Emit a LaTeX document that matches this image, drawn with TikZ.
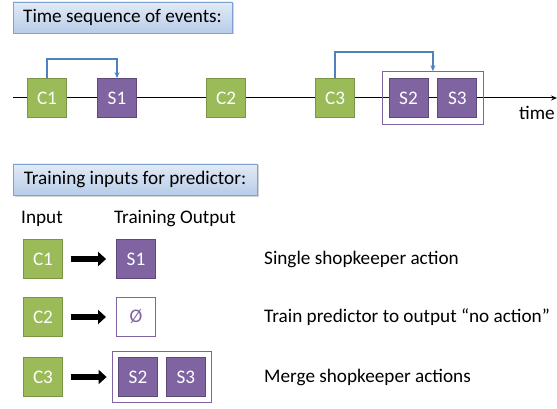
\documentclass[tikz,border=0pt]{standalone}
\usepackage{fontspec}
\setmainfont{Carlito}
\usetikzlibrary{positioning,fit,shadows,arrows.meta}

\definecolor{custgreen}{HTML}{9BBB59}
\definecolor{custedge}{HTML}{7A9545}
\definecolor{shoppurple}{HTML}{8064A2}
\definecolor{shopedge}{HTML}{5E4A7A}
\definecolor{flowblue}{HTML}{4F81BD}
\definecolor{headtop}{HTML}{E3EBF6}
\definecolor{headbot}{HTML}{B7CCE8}
\definecolor{headedge}{HTML}{7EA3D2}

\begin{document}
\begin{tikzpicture}[x=1pt,y=1pt,font=\fontsize{19.2}{22}\selectfont,
  header/.style={draw=headedge, top color=headtop, bottom color=headbot, drop shadow={opacity=0.35,shadow xshift=1.5pt,shadow yshift=-1.5pt}, minimum height=31pt, inner sep=0pt},
  cust/.style={draw=custedge, fill=custgreen, line width=0.8pt, minimum size=39pt, inner sep=0pt, text=white},
  shop/.style={draw=shopedge, fill=shoppurple, line width=0.8pt, minimum size=39pt, inner sep=0pt, text=white},
  noact/.style={draw=shoppurple, fill=white, line width=1pt, minimum size=39pt, inner sep=0pt, text=shoppurple},
  group/.style={draw=shoppurple, line width=1pt, inner sep=6.5pt},
  flow/.style={draw=flowblue, line width=1.2pt, -{Stealth[length=6pt,width=5pt]}},
  fat/.style={line width=5.5pt, -{Triangle[length=8pt,width=14pt]}}]
\useasboundingbox (0,0) rectangle (557,-409);

% time line
\coordinate (tstart) at (13,-98);
\coordinate (tend) at (557,-98);
\draw[line width=1pt, -{Stealth[length=6pt,width=5pt]}] (tstart) -- (tend);
\node (time) at (537,-113) {time};

\node (head1) [header, minimum width=219pt] at (122.5,-17.5) {Time sequence of events:};

\node (c1) [cust] at (47,-98) {C1};
\node (s1) [shop] at (117,-98) {S1};
\node (c2) [cust] at (226,-98) {C2};
\node (c3) [cust] at (335,-98) {C3};
\node (s2) [shop] at (408.5,-98) {S2};
\node (s3) [shop, right=9pt of s2] {S3};
\node (grp) [group, fit=(s2)(s3)] {};

\draw[flow] (c1.north) -- ++(0,19) -| (s1.north);
\draw[flow] (c3.north) -- ++(0,26) -| (grp.north);

% training inputs
\node (head2) [header, minimum width=244pt] at (135,-179.5) {Training inputs for predictor:};
\node (input) at (42,-219) {Input};
\node (output) at (175,-219) {Training Output};

\node (c1b) [cust] at (43,-259) {C1};
\node (s1b) [shop] at (136,-259) {S1};
\node (c2b) [cust] at (43,-317) {C2};
\node (none) [noact] at (136,-317) {Ø};
\node (c3b) [cust] at (43,-377) {C3};
\node (s2b) [shop] at (138,-377) {S2};
\node (s3b) [shop, right=8pt of s2b] {S3};
\node (grpb) [group, inner sep=6pt, fit=(s2b)(s3b)] {};

\draw[fat, shorten <=8pt, shorten >=10pt] (c1b) -- (s1b);
\draw[fat, shorten <=8pt, shorten >=10pt] (c2b) -- (none);
\draw[fat, shorten <=8pt, shorten >=5pt] (c3b) -- (grpb);

\node (single) [anchor=west, inner sep=0pt] at (264,-259) {Single shopkeeper action};
\node (train) [anchor=west, inner sep=0pt] at (264,-317) {Train predictor to output “no action”};
\node (merge) [anchor=west, inner sep=0pt] at (264,-377) {Merge shopkeeper actions};
\end{tikzpicture}
\end{document}
